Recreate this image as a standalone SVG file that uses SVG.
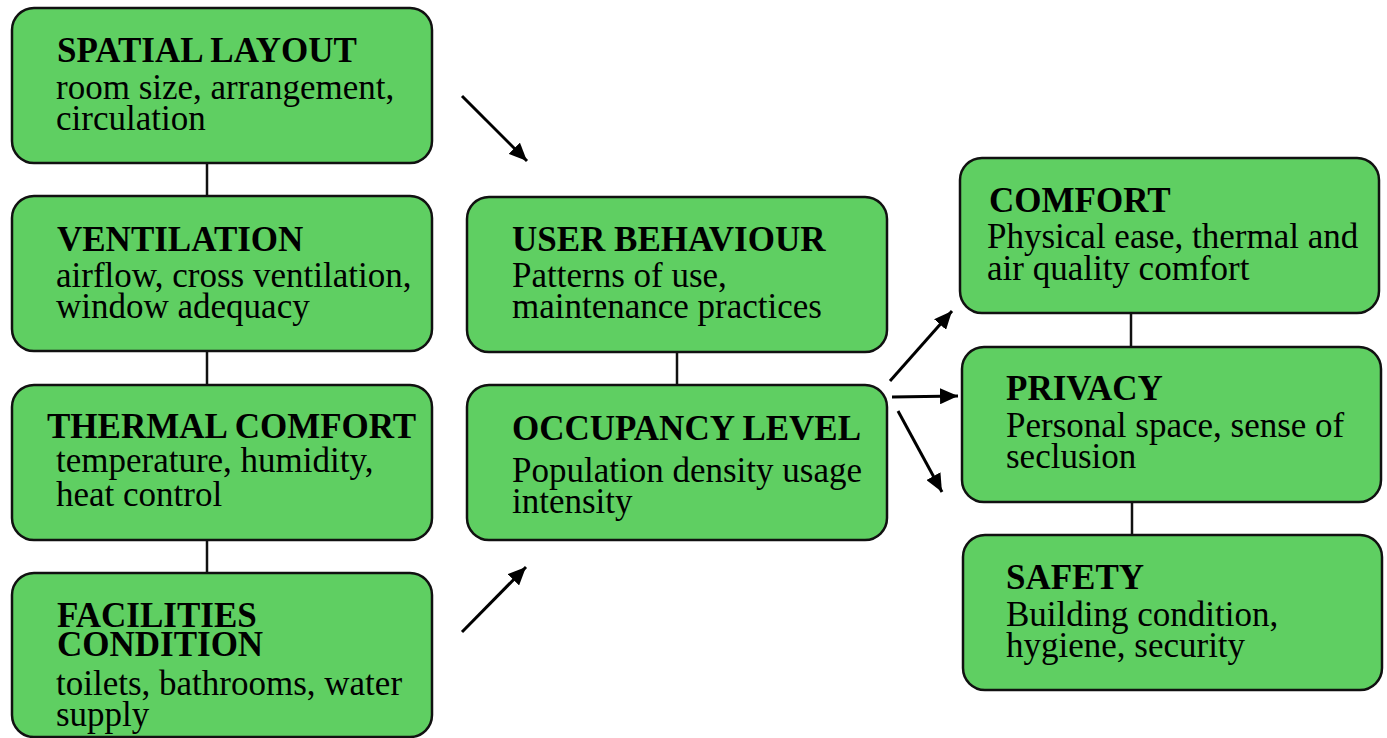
<svg xmlns="http://www.w3.org/2000/svg" width="1387" height="738" viewBox="0 0 1387 738">
<defs>
<style>
.box{fill:#5fcf62;stroke:#111;stroke-width:2.5}
.t{font-family:"Liberation Serif","Times New Roman",serif;font-size:35px;font-weight:bold;fill:#000}
.b{font-family:"Liberation Serif","Times New Roman",serif;font-size:35px;fill:#000}
.ln{stroke:#111;stroke-width:2.5;fill:none}
.ar{stroke:#000;stroke-width:3;fill:none;marker-end:url(#ah)}
</style>
<marker id="ah" markerUnits="userSpaceOnUse" markerWidth="20" markerHeight="16" refX="18" refY="8" orient="auto">
<path d="M0,0 L18,8 L0,16 Z" fill="#000"/>
</marker>
</defs>
<rect width="1387" height="738" fill="#fff"/>
<g id="connectors">
<line class="ln" x1="207" y1="163" x2="207" y2="196"/>
<line class="ln" x1="207" y1="351" x2="207" y2="385"/>
<line class="ln" x1="207" y1="540" x2="207" y2="573"/>
<line class="ln" x1="677" y1="352" x2="677" y2="385"/>
<line class="ln" x1="1131" y1="313" x2="1131" y2="347"/>
<line class="ln" x1="1132" y1="502" x2="1132" y2="535"/>
<line class="ar" x1="462" y1="96" x2="527" y2="161"/>
<line class="ar" x1="462" y1="632" x2="526" y2="567"/>
<line class="ar" x1="890" y1="381" x2="952" y2="311"/>
<line class="ar" x1="892" y1="397" x2="958" y2="396"/>
<line class="ar" x1="898" y1="411" x2="942" y2="492"/>
</g>
<g id="spatial">
<rect class="box" x="12" y="8" width="420" height="155" rx="22"/>
<text class="t" x="57" y="62">SPATIAL LAYOUT</text>
<text class="b" x="56" y="99">room size, arrangement,</text>
<text class="b" x="56" y="130">circulation</text>
</g>
<g id="ventilation">
<rect class="box" x="12" y="196" width="420" height="155" rx="22"/>
<text class="t" x="57" y="251">VENTILATION</text>
<text class="b" x="56" y="287">airflow, cross ventilation,</text>
<text class="b" x="56" y="318">window adequacy</text>
</g>
<g id="thermal">
<rect class="box" x="12" y="385" width="420" height="155" rx="22"/>
<text class="t" x="47" y="438">THERMAL COMFORT</text>
<text class="b" x="56" y="472">temperature, humidity,</text>
<text class="b" x="56" y="506">heat control</text>
</g>
<g id="facilities">
<rect class="box" x="12" y="573" width="420" height="164" rx="22"/>
<text class="t" x="57" y="627">FACILITIES</text>
<text class="t" x="57" y="656">CONDITION</text>
<text class="b" x="56" y="695">toilets, bathrooms, water</text>
<text class="b" x="56" y="726">supply</text>
</g>
<g id="user">
<rect class="box" x="467" y="197" width="420" height="155" rx="22"/>
<text class="t" x="512" y="251">USER BEHAVIOUR</text>
<text class="b" x="512" y="287">Patterns of use,</text>
<text class="b" x="512" y="318">maintenance practices</text>
</g>
<g id="occupancy">
<rect class="box" x="467" y="385" width="420" height="155" rx="22"/>
<text class="t" x="512" y="440">OCCUPANCY LEVEL</text>
<text class="b" x="512" y="482">Population density usage</text>
<text class="b" x="512" y="513">intensity</text>
</g>
<g id="comfort">
<rect class="box" x="960" y="158" width="419" height="155" rx="22"/>
<text class="t" x="989" y="212">COMFORT</text>
<text class="b" x="987" y="248">Physical ease, thermal and</text>
<text class="b" x="987" y="280">air quality comfort</text>
</g>
<g id="privacy">
<rect class="box" x="962" y="347" width="419" height="155" rx="22"/>
<text class="t" x="1006" y="400">PRIVACY</text>
<text class="b" x="1006" y="437">Personal space, sense of</text>
<text class="b" x="1006" y="468">seclusion</text>
</g>
<g id="safety">
<rect class="box" x="963" y="535" width="419" height="155" rx="22"/>
<text class="t" x="1006" y="589">SAFETY</text>
<text class="b" x="1006" y="626">Building condition,</text>
<text class="b" x="1006" y="657">hygiene, security</text>
</g>
</svg>
